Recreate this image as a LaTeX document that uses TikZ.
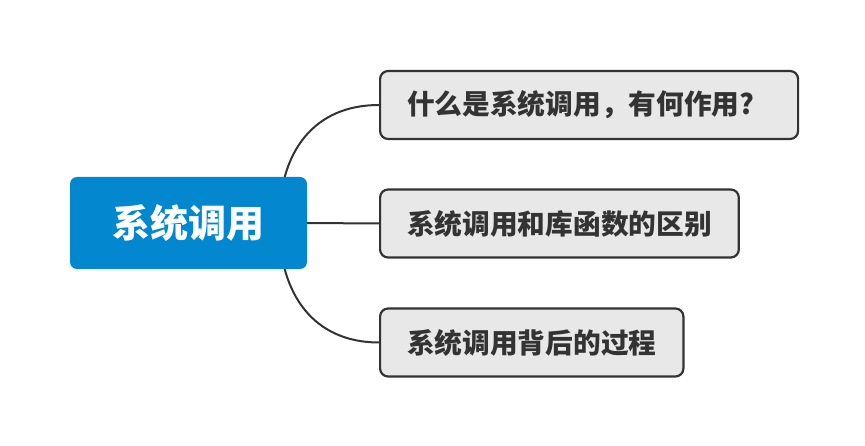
\documentclass[tikz,border=0pt]{standalone}
\usepackage{fontspec}
\setmainfont{Noto Sans CJK SC}
\usetikzlibrary{positioning,backgrounds}
\definecolor{rootblue}{RGB}{3,136,208}
\definecolor{leafgray}{RGB}{232,232,232}
\definecolor{linegray}{RGB}{51,51,51}

\begin{document}
\begin{tikzpicture}[x=1pt, y=-1pt,
  rootbox/.style={rectangle, fill=rootblue, text=white, rounded corners=7pt, minimum width=237pt, minimum height=92pt, font=\fontsize{38}{41}\selectfont\bfseries},
  leafbox/.style={rectangle, draw=linegray, line width=2.2pt, fill=leafgray, rounded corners=8pt, minimum height=68pt, inner xsep=27pt, anchor=west, text=linegray, font=\fontsize{27.7}{31}\selectfont\bfseries},
  branch/.style={draw=linegray, line width=2pt}]
\useasboundingbox (0,0) rectangle (865,446);
\node[rootbox] (sys) at (188.5,223) {系统调用};
\node[leafbox, text width=364pt, align=left] (what) at (379,105) {什么是系统调用，有何作用?};
\node[leafbox] (diff) at (379,223.5) {系统调用和库函数的区别};
\node[leafbox] (proc) at (379,342.5) {系统调用背后的过程};
\coordinate (fork) at (279,223);
\begin{scope}[on background layer]
\draw[branch] (fork) .. controls (279,150) and (315,105) .. (what.west);
\draw[branch] (sys.east) -- (diff.west);
\draw[branch] (fork) .. controls (279,296) and (315,342.5) .. (proc.west);
\end{scope}
\end{tikzpicture}
\end{document}
